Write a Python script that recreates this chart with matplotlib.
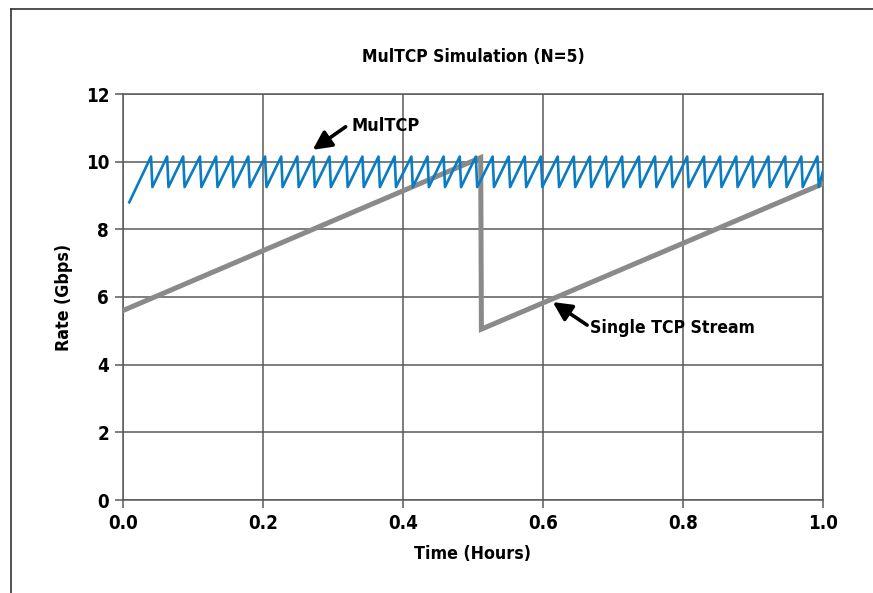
import matplotlib
matplotlib.use("Agg")
import matplotlib.pyplot as plt
from matplotlib.lines import Line2D

plt.rcParams['font.family'] = ['DejaVu Sans']
plt.rcParams['font.stretch'] = 'condensed'
plt.rcParams['font.weight'] = 'bold'

# MulTCP sawtooth: times of each peak (hours), peak / trough rates (Gbps)
multcp_start = (0.009, 8.8)
multcp_end = (1.0, 9.72)
multcp_peaks = [0.040, 0.063, 0.086, 0.110, 0.133, 0.156, 0.179, 0.203,
                0.226, 0.249, 0.272, 0.295, 0.319, 0.342, 0.365, 0.388,
                0.412, 0.435, 0.458, 0.481, 0.504, 0.528, 0.551, 0.574,
                0.597, 0.621, 0.644, 0.667, 0.690, 0.713, 0.737, 0.760,
                0.783, 0.806, 0.830, 0.853, 0.876, 0.899, 0.922, 0.946,
                0.969, 0.992]
multcp_high = 10.15
multcp_low = 9.25
drop_width = 0.002

# single TCP stream
tcp_time = [0.0, 0.511, 0.512, 1.0]
tcp_rate = [5.6, 10.12, 5.05, 9.35]

x_ticks = [0.0, 0.2, 0.4, 0.6, 0.8, 1.0]
y_ticks = [0, 2, 4, 6, 8, 10, 12]

mx = [multcp_start[0]]
my = [multcp_start[1]]
for t in multcp_peaks:
    mx += [t, t + drop_width]
    my += [multcp_high, multcp_low]
mx.append(multcp_end[0])
my.append(multcp_end[1])

fig = plt.figure(figsize=(8.73, 5.93), dpi=100)
ax = fig.add_axes([123 / 873, 1 - 500 / 593, 700 / 873, 406 / 593])

grid_c = '#5a5a5a'
ax.plot(tcp_time, tcp_rate, color='#8a8a8a', lw=3.6, zorder=3,
        solid_joinstyle='miter')
ax.plot(mx, my, color='#0a7cc1', lw=1.9, zorder=4)

ax.set_xlim(0, 1)
ax.set_ylim(0, 12)
ax.set_xticks(x_ticks)
ax.set_xticklabels(['%.1f' % v for v in x_ticks])
ax.set_yticks(y_ticks)
ax.grid(True, color=grid_c, lw=1.1, zorder=0)
ax.set_axisbelow(True)
for s in ax.spines.values():
    s.set_color(grid_c)
    s.set_linewidth(1.1)
ax.tick_params(length=6, width=1.1, color=grid_c, labelsize=13.5, pad=4)

ax.set_title('MulTCP Simulation (N=5)', fontsize=12.5, fontweight='bold', pad=23)
ax.set_xlabel('Time (Hours)', fontsize=12.8, fontweight='bold', labelpad=9)
ax.set_ylabel('Rate (Gbps)', fontsize=12.8, fontweight='bold', labelpad=9)

arrow = dict(arrowstyle='-|>', color='black', lw=2.6, mutation_scale=28,
             shrinkA=0, shrinkB=0)
ax.annotate('', xy=(0.271, 10.35), xytext=(0.318, 11.03), arrowprops=arrow,
            zorder=6)
ax.text(0.327, 11.05, 'MulTCP', fontsize=13, fontweight='bold',
        va='center', ha='left')
ax.annotate('', xy=(0.614, 5.85), xytext=(0.663, 5.17), arrowprops=arrow,
            zorder=6)
ax.text(0.667, 5.08, 'Single TCP Stream', fontsize=12.6, fontweight='bold',
        va='center', ha='left')

# outer frame (top and left edges visible)
fig.add_artist(Line2D([11 / 873, 1], [1 - 9 / 593, 1 - 9 / 593],
                      color='#333333', lw=1.2))
fig.add_artist(Line2D([11 / 873, 11 / 873], [0, 1 - 9 / 593],
                      color='#333333', lw=1.2))

fig.savefig('out.png', dpi=100)
